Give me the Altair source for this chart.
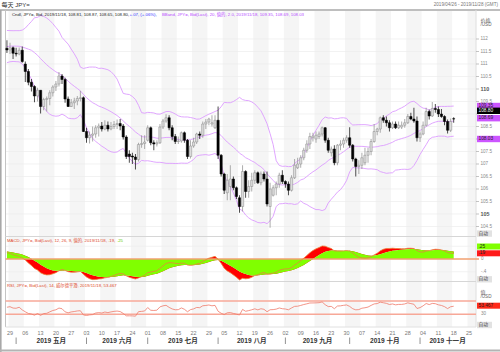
import altair as alt
import numpy as np
import pandas as pd

FONT = "Liberation Sans, Arial, Noto Sans CJK SC, sans-serif"

# ---------------- data ----------------
# closes before the visible window (Feb 1 - Apr 25, 2019), only used to warm up the indicators
warmup_close = [
    109.50, 109.90, 109.95, 109.97, 109.80, 109.72, 110.40, 110.47, 111.00, 110.47,
    110.50, 110.60, 110.60, 110.85, 110.70, 110.70, 111.05, 110.60, 111.00, 111.38,
    111.90, 111.75, 111.89, 111.77, 111.60, 111.17, 111.20, 111.37, 111.69, 111.70,
    111.46, 111.43, 111.40, 110.69, 110.84, 109.92, 109.98, 110.63, 110.55, 110.62,
    110.86, 111.35, 111.35, 111.45, 111.64, 111.73, 111.48, 111.15, 110.99, 111.65,
    112.02, 112.03, 112.06, 112.04, 111.92, 111.92, 111.94, 111.85, 112.19, 111.63,
]

# daily candles 2019-04-26 .. 2019-11-18
candle_open = [
    111.63, 111.56, 111.65, 111.43, 111.40, 111.55, 111.00, 110.70, 110.27, 110.10,
    109.72, 109.95, 109.30, 109.58, 109.62, 109.85, 110.08, 110.20, 110.52, 110.38,
    109.60, 109.30, 109.45, 109.52, 109.62, 109.65, 108.30, 108.05, 108.15, 108.20,
    108.45, 108.52, 108.40, 108.55, 108.40, 108.50, 108.58, 108.62, 108.52, 108.08,
    107.40, 107.32, 107.28, 107.18, 107.78, 107.82, 107.95, 108.45, 107.85, 107.80,
    107.85, 108.48, 108.72, 108.85, 108.45, 108.10, 107.90, 107.92, 108.25, 107.95,
    107.30, 107.72, 107.88, 108.20, 108.15, 108.60, 108.68, 108.60, 108.45, 108.75,
    107.35, 106.60, 105.85, 106.10, 106.40, 106.05, 105.65, 105.30, 106.70, 105.90,
    106.10, 106.35, 106.65, 106.25, 106.60, 106.40, 105.30, 105.75, 106.05, 106.20,
    106.55, 106.30, 106.20, 105.95, 106.45, 106.85, 107.00, 107.25, 107.55, 107.80,
    108.05, 108.00, 108.10, 108.20, 108.45, 107.95, 107.45, 107.60, 107.05, 107.75,
    107.80, 107.95, 108.05, 107.75, 107.20, 106.90, 106.95, 107.05, 107.35, 107.50,
    107.90, 108.30, 108.40, 108.85, 108.75, 108.65, 108.45, 108.60, 108.45, 108.48,
    108.55, 108.65, 108.90, 108.80, 108.72, 108.05, 108.20, 108.55, 109.10, 108.92,
    109.22, 109.18, 109.00, 108.90, 108.70, 108.35, 108.81,
]
candle_high = [
    111.95, 111.85, 111.70, 111.65, 111.66, 111.70, 111.10, 110.80, 110.40, 110.15,
    110.05, 109.95, 109.65, 109.70, 109.95, 110.15, 110.32, 110.68, 110.60, 110.45,
    109.70, 109.60, 109.65, 109.72, 109.93, 109.70, 108.45, 108.30, 108.50, 108.55,
    108.62, 108.68, 108.75, 108.70, 108.68, 108.72, 108.78, 108.80, 108.60, 108.15,
    107.55, 107.45, 107.40, 107.85, 108.15, 108.15, 108.55, 108.50, 107.95, 107.95,
    108.60, 108.80, 108.99, 108.95, 108.55, 108.20, 108.10, 108.30, 108.30, 108.00,
    107.95, 108.05, 108.25, 108.30, 108.70, 108.80, 108.85, 108.95, 108.95, 109.30,
    107.40, 106.65, 106.60, 106.95, 106.50, 106.10, 105.75, 106.95, 106.75, 106.35,
    106.65, 106.75, 106.70, 106.70, 106.70, 106.70, 106.25, 106.15, 106.30, 106.65,
    106.75, 106.35, 106.30, 106.55, 107.20, 107.25, 107.35, 107.65, 107.95, 108.25,
    108.25, 108.30, 108.30, 108.50, 108.48, 108.05, 107.70, 107.75, 107.80, 107.95,
    108.05, 108.15, 108.47, 107.80, 107.25, 107.15, 107.45, 107.65, 107.65, 108.00,
    108.60, 108.45, 108.90, 108.95, 108.90, 108.75, 108.70, 108.70, 108.70, 108.70,
    108.80, 109.00, 109.05, 109.25, 108.90, 108.30, 108.70, 109.25, 109.18, 109.48,
    109.40, 109.30, 109.20, 108.95, 108.78, 108.82, 108.87,
]
candle_low = [
    111.44, 111.40, 111.20, 111.30, 111.35, 111.05, 110.28, 110.15, 109.90, 109.47,
    109.50, 109.02, 109.15, 109.10, 109.35, 109.70, 109.92, 110.10, 110.20, 109.45,
    109.28, 109.28, 109.20, 109.35, 109.50, 108.28, 107.85, 107.82, 107.90, 108.05,
    108.10, 108.30, 108.35, 108.30, 108.35, 108.40, 108.40, 108.35, 107.98, 107.20,
    107.05, 107.00, 106.78, 107.10, 107.65, 107.60, 107.90, 107.75, 107.55, 107.70,
    107.80, 108.40, 108.65, 108.35, 107.95, 107.80, 107.80, 107.85, 107.85, 107.20,
    107.22, 107.65, 107.80, 108.00, 108.05, 108.40, 108.55, 108.50, 108.40, 107.20,
    106.50, 105.80, 105.55, 105.55, 105.95, 105.60, 105.05, 105.10, 105.65, 105.65,
    105.90, 106.20, 106.20, 106.15, 106.30, 105.30, 104.45, 105.70, 105.75, 106.05,
    106.20, 106.05, 105.75, 105.90, 106.40, 106.80, 106.85, 107.15, 107.45, 107.60,
    107.90, 107.85, 108.00, 108.10, 107.85, 107.45, 107.30, 106.95, 106.95, 107.55,
    107.65, 107.85, 107.65, 107.10, 106.50, 106.60, 106.80, 106.95, 107.05, 107.35,
    107.85, 108.15, 108.25, 108.65, 108.50, 108.30, 108.40, 108.40, 108.40, 108.40,
    108.45, 108.60, 108.75, 108.65, 107.90, 107.88, 108.15, 108.50, 108.78, 108.88,
    109.05, 108.88, 108.85, 108.55, 108.22, 108.28, 108.65,
]
candle_close = [
    111.56, 111.65, 111.43, 111.40, 111.55, 111.10, 110.70, 110.27, 110.10, 109.72,
    109.95, 109.30, 109.58, 109.62, 109.85, 110.08, 110.20, 110.52, 110.38, 109.60,
    109.30, 109.45, 109.52, 109.62, 109.65, 108.30, 108.05, 108.15, 108.20, 108.45,
    108.52, 108.40, 108.55, 108.40, 108.50, 108.58, 108.62, 108.52, 108.08, 107.30,
    107.30, 107.28, 107.18, 107.78, 107.82, 107.88, 108.45, 107.85, 107.80, 107.85,
    108.48, 108.72, 108.85, 108.45, 108.10, 107.90, 107.92, 108.25, 107.95, 107.30,
    107.72, 107.88, 108.20, 108.15, 108.60, 108.68, 108.80, 108.65, 108.75, 107.35,
    106.60, 105.95, 106.35, 106.40, 106.05, 105.70, 105.30, 106.70, 105.90, 106.10,
    106.35, 106.65, 106.25, 106.60, 106.40, 105.40, 106.00, 106.05, 106.20, 106.55,
    106.30, 106.20, 105.95, 106.45, 106.95, 107.00, 107.25, 107.55, 107.80, 108.10,
    108.12, 108.15, 108.20, 108.45, 107.95, 107.55, 107.60, 107.05, 107.75, 107.80,
    107.95, 108.05, 107.75, 107.20, 106.90, 106.95, 107.25, 107.35, 107.50, 107.90,
    108.30, 108.40, 108.85, 108.75, 108.65, 108.45, 108.60, 108.45, 108.55, 108.55,
    108.65, 108.90, 108.80, 108.72, 108.05, 108.20, 108.55, 109.10, 108.92, 109.22,
    109.18, 109.00, 108.90, 108.70, 108.35, 108.70, 108.80,
]

price_ticks = [104.5, 105, 105.5, 106, 106.5, 107, 107.5, 108, 108.5, 109, 109.5,
               110, 110.5, 111, 111.5, 112]
macd_ticks = [-0.4, 0.0, 0.4]
macd_tick_labels = ["-.4", "0", ".4"]
rsi_ticks = [30]
rsi_tick_labels = ["30"]
month_names = ["2019 五月", "2019 六月", "2019 七月", "2019 八月", "2019 九月",
               "2019 十月", "2019 十一月"]

title_text = "每天 JPY="
range_text = "2019/04/26 - 2019/11/28 (GMT)"
hdr_cndl = "Cndl, JPY=, Bid, 2019/11/18, 108.81, 108.87, 108.65, 108.80,"
hdr_chg = "+.07, (+.06%),"
hdr_bb = "BBand, JPY=, Bid(Last), 20, 值的, 2.0, 2019/11/18, 109.35, 108.69, 108.03"
hdr_macd = "MACD, JPY=, Bid(Last), 12, 26, 9, 值的, 2019/11/18, .19,"
hdr_macd_sig = ".25"
hdr_rsi = "RSI, JPY=, Bid(Last), 14, 威尔德平滑, 2019/11/18, 53.467"

# value tags on the right edge: text, fill, text colour
price_tags = [("109.35", "#cc55ff", "#222222"), ("108.80", "#000000", "#ffffff"),
              ("108.69", "#cc55ff", "#222222"), ("108.03", "#cc55ff", "#222222")]
macd_tags = [(".25", "#80ff00", "#222222"), (".19", "#ff1a1a", "#222222")]
rsi_tags = [("53.467", "#ff2a1a", "#222222")]

# ---------------- derived tables ----------------
n_warm = len(warmup_close)
allc = pd.Series(warmup_close + candle_close, dtype=float)
ema12 = allc.ewm(span=12, adjust=False).mean()
ema26 = allc.ewm(span=26, adjust=False).mean()
macd = ema12 - ema26
signal = macd.ewm(span=9, adjust=False).mean()
mid = allc.rolling(20).mean()
sd = allc.rolling(20).std(ddof=0)
delta = allc.diff()
gain = delta.clip(lower=0)
loss = (-delta).clip(lower=0)
ag = gain.ewm(alpha=1 / 14, adjust=False).mean()
al = loss.ewm(alpha=1 / 14, adjust=False).mean()
rsi = 100 - 100 / (1 + ag / al)

N = len(candle_close)
sl = slice(n_warm, n_warm + N)
idx = np.arange(N)
o = np.array(candle_open)
c = np.array(candle_close)
up = c >= o
df = pd.DataFrame({
    "i": idx, "xl": idx - 0.37, "xr": idx + 0.37,
    "o": o, "h": candle_high, "l": candle_low, "c": c,
    "fill": np.where(up, "#dcdcdc", "#000000"),
    "stroke": np.where(up, "#8a8a8a", "#000000"),
    "wick": np.where(up, "#8a8a8a", "#000000"),
    "bb_up": (mid + 2 * sd).values[sl],
    "bb_mid": mid.values[sl],
    "bb_lo": np.maximum((mid - 2 * sd).values[sl], 104.3),
    "macd": np.clip(macd.values[sl], -0.68, 0.68),
    "signal": np.clip(signal.values[sl], -0.68, 0.68),
    "zero": 0.0,
    "rsi": rsi.values[sl],
})
bb = df.melt(id_vars=["i"], value_vars=["bb_up", "bb_mid", "bb_lo"], var_name="band", value_name="v")

dates = pd.bdate_range("2019-04-26", periods=155)
mondays = [k for k, d in enumerate(dates) if d.weekday() == 0]
stripes = pd.DataFrame({"s": [m - 0.5 for m in mondays[::2]],
                        "e": [min(m + 4.5, 153.3) for m in mondays[::2]]})
day_lab = pd.DataFrame({"i": mondays, "t": [dates[m].strftime("%d") for m in mondays]})
mstarts = [k for k in range(1, len(dates)) if dates[k].month != dates[k - 1].month]
mends = mstarts[1:] + [153]
month_lab = pd.DataFrame({"i": [(a + b) / 2 for a, b in zip(mstarts, mends)], "t": month_names})
month_sep = pd.DataFrame({"i": mstarts})

XS = alt.Scale(domain=[-1, 154], range=[3.88, 478.18], nice=False, zero=False)
PY = alt.Scale(domain=[104.24, 112.84], range=[233, 18], nice=False, zero=False)
MY = alt.Scale(domain=[-0.693, 0.693], range=[281, 237], nice=False, zero=False)
RY = alt.Scale(domain=[-8.2, 127.1], range=[327, 282], nice=False, zero=False)

ONE = pd.DataFrame({"a": [0]})

# value-tag pixel centres (as placed in the reference, shifted where they collide)
price_tag_y = [106, 110.8, 118.2, 139]
macd_tag_y = [246.5, 253.3]
rsi_tag_y = [305.7]
auto_tag_y = [233.6, 279.3, 325.0]


def X(f):
    return alt.X(f, scale=XS, axis=None)


def text_at(txt, x, y, size, color, align="left", weight="normal", font=FONT):
    return alt.Chart(ONE).mark_text(text=txt, align=align, baseline="middle", fontSize=size,
                                    color=color, fontWeight=weight, font=font).encode(
        x=alt.value(x), y=alt.value(y))


def py(v):
    return 233 + (v - 104.24) * (18 - 233) / (112.84 - 104.24)


def my(v):
    return 281 + (v + 0.693) * (237 - 281) / (1.386)


layers = []

# stripes (alternate weeks)
layers.append(alt.Chart(stripes).mark_rect(color="#f5f5f5").encode(
    x=X("s:Q"), x2="e:Q", y=alt.value(10.8), y2=alt.value(327)))

# horizontal grid in price panel
grid = pd.DataFrame({"p": price_ticks})
layers.append(alt.Chart(grid).mark_rule(color="#ececec", strokeWidth=0.7).encode(
    y=alt.Y("p:Q", scale=PY, axis=None), x=alt.value(5.5), x2=alt.value(476)))
mgrid = pd.DataFrame({"m": [-0.4, 0.4]})
layers.append(alt.Chart(mgrid).mark_rule(color="#ececec", strokeWidth=0.7).encode(
    y=alt.Y("m:Q", scale=MY, axis=None), x=alt.value(5.5), x2=alt.value(476)))

# frame lines
frame = pd.DataFrame([
    dict(x=0, x2=500, y=10, y2=10, col="#a8a8a8", w=1.6),
    dict(x=0.8, x2=0.8, y=10, y2=352, col="#a8a8a8", w=1.6),
    dict(x=0, x2=500, y=350.5, y2=350.5, col="#b4b4b4", w=2.2),
    dict(x=5.5, x2=5.5, y=10, y2=327, col="#c4c4c4", w=1),
    dict(x=476, x2=476, y=10, y2=327, col="#dedede", w=1),
    dict(x=5.5, x2=476, y=236.5, y2=236.5, col="#d6d6d6", w=1),
    dict(x=5.5, x2=476, y=281.5, y2=281.5, col="#d6d6d6", w=1),
    dict(x=5.5, x2=476, y=327, y2=327, col="#e0e0e0", w=1),
])
layers.append(alt.Chart(frame).mark_rule().encode(
    x=alt.X("x:Q", scale=None, axis=None), x2="x2:Q",
    y=alt.Y("y:Q", scale=None, axis=None), y2="y2:Q",
    color=alt.Color("col:N", scale=None), strokeWidth=alt.StrokeWidth("w:Q", scale=None)))

# Bollinger bands
layers.append(alt.Chart(bb).mark_line(color="#dc9cff", strokeWidth=0.9).encode(
    x=X("i:Q"), y=alt.Y("v:Q", scale=PY, axis=None), detail="band:N"))

# candles
layers.append(alt.Chart(df).mark_rule(strokeWidth=0.7).encode(
    x=X("i:Q"), y=alt.Y("l:Q", scale=PY, axis=None), y2="h:Q",
    color=alt.Color("wick:N", scale=None)))
layers.append(alt.Chart(df).mark_rect(strokeWidth=0.5).encode(
    x=X("xl:Q"), x2="xr:Q", y=alt.Y("o:Q", scale=PY, axis=None), y2="c:Q",
    fill=alt.Fill("fill:N", scale=None), stroke=alt.Stroke("stroke:N", scale=None)))

# MACD panel
layers.append(alt.Chart(df).mark_area(color="#ff0000").encode(
    x=X("i:Q"), y=alt.Y("macd:Q", scale=MY, axis=None), y2="signal:Q"))
layers.append(alt.Chart(df).mark_area(color="#80ff00").encode(
    x=X("i:Q"), y=alt.Y("signal:Q", scale=MY, axis=None), y2="zero:Q"))
layers.append(alt.Chart(pd.DataFrame({"z": [0.0]})).mark_rule(color="#f2a070", strokeWidth=1.3).encode(
    y=alt.Y("z:Q", scale=MY, axis=None), x=alt.value(5.5), x2=alt.value(479)))
layers.append(alt.Chart(df).mark_line(color="#e8823c", strokeWidth=0.8).encode(
    x=X("i:Q"), y=alt.Y("macd:Q", scale=MY, axis=None)))

# RSI panel
layers.append(alt.Chart(pd.DataFrame({"r": [70, 30]})).mark_rule(color="#f7a898", strokeWidth=1.5).encode(
    y=alt.Y("r:Q", scale=RY, axis=None), x=alt.value(5.5), x2=alt.value(476)))
layers.append(alt.Chart(df).mark_line(color="#f07a6a", strokeWidth=0.8).encode(
    x=X("i:Q"), y=alt.Y("rsi:Q", scale=RY, axis=None)))

# right axes: price (labels that sit under a value tag are hidden, as in the reference)
pt = pd.DataFrame({"p": price_ticks,
                   "t": [("%g" % v) for v in price_ticks],
                   "major": [v % 5 == 0 for v in price_ticks]})
pt["hidden"] = [min(abs(py(v) - ty) for ty in price_tag_y) < 4.2 for v in price_ticks]
layers.append(alt.Chart(pt).mark_rule(color="#aaaaaa", strokeWidth=0.7).encode(
    y=alt.Y("p:Q", scale=PY, axis=None), x=alt.value(476), x2=alt.value(479)))
layers.append(alt.Chart(pt).transform_filter("!datum.major && !datum.hidden").mark_text(
    align="left", baseline="middle", fontSize=4.6, color="#8a8a8a", font=FONT).encode(
    y=alt.Y("p:Q", scale=PY, axis=None), x=alt.value(480.5), text="t:N"))
layers.append(alt.Chart(pt).transform_filter("datum.major && !datum.hidden").mark_text(
    align="left", baseline="middle", fontSize=5.4, color="#555555", fontWeight="bold", font=FONT).encode(
    y=alt.Y("p:Q", scale=PY, axis=None), x=alt.value(480.5), text="t:N"))

# right axes: MACD and RSI
mt = pd.DataFrame({"m": macd_ticks, "t": macd_tick_labels})
mt["hidden"] = [min(abs(my(v) - ty) for ty in macd_tag_y) < 4.2 for v in macd_ticks]
layers.append(alt.Chart(mt).transform_filter("!datum.hidden").mark_text(
    align="left", baseline="middle", fontSize=4.6, color="#8a8a8a", font=FONT).encode(
    y=alt.Y("m:Q", scale=MY, axis=None), x=alt.value(481), text="t:N"))
rt = pd.DataFrame({"r": rsi_ticks, "t": rsi_tick_labels})
layers.append(alt.Chart(rt).mark_text(align="left", baseline="middle", fontSize=4.6,
                                      color="#8a8a8a", font=FONT).encode(
    y=alt.Y("r:Q", scale=RY, axis=None), x=alt.value(481), text="t:N"))

# value tags
tag_rows = []
for (t, f, tc), yc in zip(price_tags, price_tag_y):
    tag_rows.append(dict(t=t, f=f, tc=tc, y=yc - 3.2, y2=yc + 3.2, yc=yc, x=477, x2=500))
for (t, f, tc), yc in zip(macd_tags, macd_tag_y):
    tag_rows.append(dict(t=t, f=f, tc=tc, y=yc - 3.0, y2=yc + 3.0, yc=yc, x=477, x2=500))
for (t, f, tc), yc in zip(rsi_tags, rsi_tag_y):
    tag_rows.append(dict(t=t, f=f, tc=tc, y=yc - 3.0, y2=yc + 3.0, yc=yc, x=477, x2=500))
for yc in auto_tag_y:
    tag_rows.append(dict(t="自动", f="#e2e2e2", tc="#444444", y=yc - 3.2, y2=yc + 3.2, yc=yc, x=477, x2=492))
tags = pd.DataFrame(tag_rows)
layers.append(alt.Chart(tags).mark_rect().encode(
    x=alt.X("x:Q", scale=None, axis=None), x2="x2:Q",
    y=alt.Y("y:Q", scale=None, axis=None), y2="y2:Q",
    fill=alt.Fill("f:N", scale=None)))
layers.append(alt.Chart(tags).mark_text(align="left", baseline="middle", fontSize=4.8, font=FONT).encode(
    x=alt.value(478.5), y=alt.Y("yc:Q", scale=None, axis=None), text="t:N",
    color=alt.Color("tc:N", scale=None)))

# unit captions
layers.append(text_at("价格", 480.5, 19.5, 5, "#666666"))
layers.append(text_at("/USD", 480.5, 25, 4.6, "#666666"))
layers.append(text_at("值", 480.5, 291.8, 5, "#666666"))
layers.append(text_at("/USD", 480.5, 297.3, 4.6, "#666666"))

# x axis: week days, month separators, month names
layers.append(alt.Chart(day_lab).mark_text(align="center", baseline="middle", fontSize=5.4,
                                           color="#777777", font=FONT).encode(
    x=X("i:Q"), y=alt.value(333), text="t:N"))
layers.append(alt.Chart(month_sep).mark_rule(color="#777777", strokeWidth=0.8).encode(
    x=X("i:Q"), y=alt.value(337.5), y2=alt.value(344)))
layers.append(alt.Chart(month_lab).mark_text(align="center", baseline="middle", fontSize=6.6,
                                             color="#333333", fontWeight="bold", font=FONT).encode(
    x=X("i:Q"), y=alt.value(341), text="t:N"))

# headers
layers.append(text_at(title_text, 1.5, 5.2, 6, "#333333"))
layers.append(text_at(range_text, 498, 5, 4.6, "#777777", align="right"))
layers.append(text_at(hdr_cndl, 12, 15, 4.3, "#222222"))
layers.append(text_at(hdr_chg, 129.5, 15, 4.3, "#3333ff"))
layers.append(text_at(hdr_bb, 162, 15, 4.3, "#b84cff"))
layers.append(text_at(hdr_macd, 7, 240.8, 4.3, "#e04a2a"))
layers.append(text_at(hdr_macd_sig, 117, 240.8, 4.3, "#66cc00"))
layers.append(text_at(hdr_rsi, 7, 285.8, 4.3, "#e04a2a"))

chart = alt.layer(*layers).resolve_scale(
    x="independent", y="independent", color="independent",
    fill="independent", stroke="independent", strokeWidth="independent"
).properties(
    width=500, height=352, autosize=alt.AutoSizeParams(type="none"), padding=0,
    background="white"
).configure_view(stroke=None)

chart.save("out.html", embed_options={"renderer": "svg", "actions": False})
